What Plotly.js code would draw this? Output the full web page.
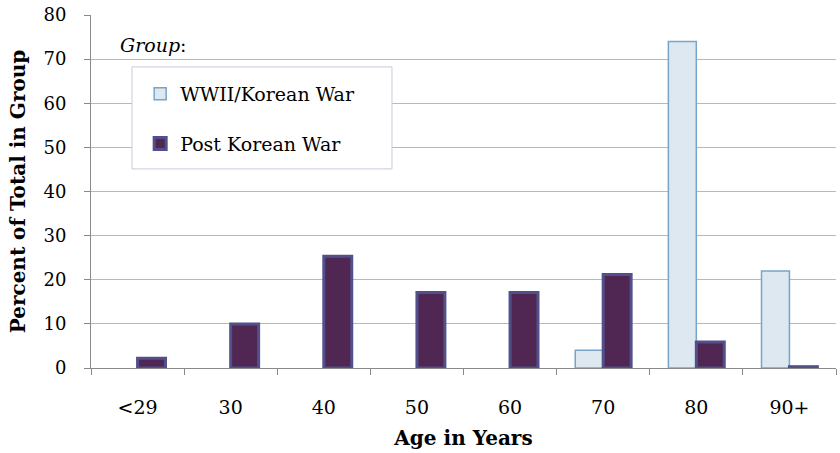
<!DOCTYPE html>
<html>
<head>
<meta charset="utf-8">
<script src="https://cdn.plot.ly/plotly-3.0.1.min.js"></script>
<style>html,body{margin:0;padding:0;background:#fff}#chart{width:840px;height:453px}</style>
</head>
<body>
<div id="chart"></div>
<script>
var categories = ["<29", "30", "40", "50", "60", "70", "80", "90+"];
var wwiiKorean = [0, 0, 0, 0, 0, 4, 74, 22];
var postKorean = [2.2, 10, 25.3, 17.1, 17.1, 21.2, 5.9, 0.3];
var seriesNames = ["WWII/Korean War", "Post Korean War"];
var yTicks = [0, 10, 20, 30, 40, 50, 60, 70, 80];

var FONT = "DejaVu Serif, Georgia, serif";

// zero-valued bars are not drawn in the reference (no outline)
function hideZeros(vals) { return vals.map(function (v) { return v > 0 ? v : null; }); }

var traces = [
  {
    type: "bar", x: categories, y: hideZeros(wwiiKorean), name: seriesNames[0],
    legendgroup: "a",
    marker: {color: "#dde8f0", line: {color: "#78a4c9", width: 1.5}},
    hoverinfo: "x+y"
  },
  {
    type: "bar", x: categories, y: hideZeros(postKorean), name: seriesNames[1],
    legendgroup: "b",
    marker: {color: "#4f2752", line: {color: "#52508a", width: 3}},
    hoverinfo: "x+y"
  }
];

var layout = {
  width: 840, height: 453,
  margin: {l: 91, r: 4, t: 15, b: 85},
  paper_bgcolor: "#ffffff", plot_bgcolor: "#ffffff",
  font: {family: FONT, size: 18, color: "#000"},
  barmode: "group", bargap: 0.4, bargroupgap: 0,
  showlegend: true,
  legend: {
    x: 0.066, y: 0.83, xanchor: "left", yanchor: "top",
    bgcolor: "rgba(0,0,0,0)", borderwidth: 0,
    font: {family: FONT, size: 19, color: "#000"},
    traceorder: "grouped", tracegroupgap: 22
  },
  shapes: [
    {type: "rect", xref: "paper", yref: "paper", layer: "above",
     x0: 0.055, x1: 0.404, y0: 0.564, y1: 0.853,
     fillcolor: "#ffffff", line: {color: "#c9c9dc", width: 1}}
  ],
  xaxis: {
    type: "category",
    tickson: "boundaries",
    ticks: "outside", ticklen: 6, tickcolor: "#8a8a8a",
    showline: true, linecolor: "#8a8a8a", linewidth: 1,
    showgrid: false, zeroline: false,
    tickfont: {family: FONT, size: 19, color: "#000"},
    ticklabelstandoff: 22,
    title: {text: "<b>Age in Years</b>", font: {family: FONT, size: 20, color: "#000"}, standoff: 14}
  },
  yaxis: {
    range: [0, 80], tickvals: yTicks, ticktext: yTicks.map(String),
    ticks: "outside", ticklen: 6, tickcolor: "#8a8a8a",
    showline: true, linecolor: "#8a8a8a", linewidth: 1,
    showgrid: true, gridcolor: "#b8b8b8", gridwidth: 1,
    zeroline: false,
    tickfont: {family: FONT, size: 18, color: "#000"},
    ticklabelstandoff: 14,
    title: {text: "<b>Percent of Total in Group</b>", font: {family: FONT, size: 20, color: "#000"}, standoff: 12}
  },
  annotations: [
    {xref: "paper", yref: "paper", x: 0.036, y: 0.915, xanchor: "left", yanchor: "middle",
     text: "<i>Group</i>:", showarrow: false, font: {family: FONT, size: 19, color: "#000"}}
  ]
};

Plotly.newPlot("chart", traces, layout, {displayModeBar: false, staticPlot: true});
</script>
</body>
</html>
